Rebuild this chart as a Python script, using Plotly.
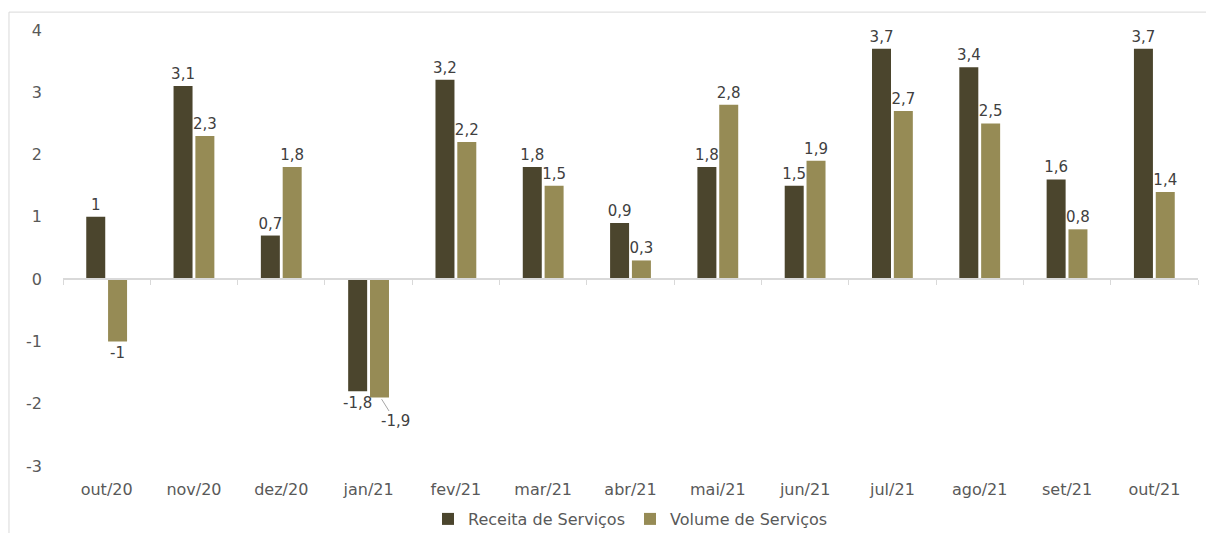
import plotly.graph_objects as go

# Monthly variation (%) by category
meses = ["out/20", "nov/20", "dez/20", "jan/21", "fev/21", "mar/21", "abr/21",
         "mai/21", "jun/21", "jul/21", "ago/21", "set/21", "out/21"]
receita = [1, 3.1, 0.7, -1.8, 3.2, 1.8, 0.9, 1.8, 1.5, 3.7, 3.4, 1.6, 3.7]
volume = [-1, 2.3, 1.8, -1.9, 2.2, 1.5, 0.3, 2.8, 1.9, 2.7, 2.5, 0.8, 1.4]
y_ticks = [-3, -2, -1, 0, 1, 2, 3, 4]

COR_RECEITA = "#4b452d"
COR_VOLUME = "#968b55"
FONTE = "DejaVu Sans"
COR_EIXO = "#d9d9d9"


def rotulo(v):
    s = f"{v:.1f}".replace(".", ",")
    return s[:-2] if s.endswith(",0") else s


# label of jan/21 volume bar is drawn as an annotation with a leader line
idx_jan = meses.index("jan/21")
txt_receita = [rotulo(v) for v in receita]
txt_volume = [rotulo(v) if i != idx_jan else "" for i, v in enumerate(volume)]

fig = go.Figure()
fig.add_trace(go.Bar(
    x=meses, y=receita, name="Receita de Serviços",
    marker=dict(color=COR_RECEITA, line=dict(width=0)),
    text=txt_receita, textposition="outside", constraintext="none",
    cliponaxis=False,
    textfont=dict(family=FONTE, size=15, color="#404040"),
))
fig.add_trace(go.Bar(
    x=meses, y=volume, name="Volume de Serviços",
    marker=dict(color=COR_VOLUME, line=dict(width=0)),
    text=txt_volume, textposition="outside", constraintext="none",
    cliponaxis=False,
    textfont=dict(family=FONTE, size=15, color="#404040"),
))
# carrier for the zero axis (line with month separators)
fig.add_trace(go.Scatter(
    x=meses, y=receita, xaxis="x2", mode="none",
    showlegend=False, hoverinfo="skip",
))

fig.add_annotation(
    x=meses[idx_jan], y=volume[idx_jan], xref="x", yref="y",
    xshift=12, text=rotulo(volume[idx_jan]),
    showarrow=True, arrowhead=0, arrowwidth=1, arrowcolor="#a6a6a6",
    ax=15, ay=24, standoff=2,
    font=dict(family=FONTE, size=15, color="#404040"),
)

n = len(meses)
fig.update_layout(
    width=1206, height=533,
    margin=dict(l=63, r=8, t=30, b=67),
    paper_bgcolor="white", plot_bgcolor="white",
    barmode="group", bargap=0.5, bargroupgap=0.13,
    font=dict(family=FONTE, size=16, color="#595959"),
    showlegend=True,
    legend=dict(orientation="h", x=0.5, xanchor="center",
                yref="container", y=1 - 519 / 533, yanchor="middle",
                font=dict(family=FONTE, size=16, color="#595959"),
                itemwidth=30, tracegroupgap=0),
    xaxis=dict(type="category", range=[-0.5, n - 0.5], showline=False,
               showgrid=False, ticks="", ticklabelstandoff=12,
               automargin=False,
               tickfont=dict(family=FONTE, size=16, color="#595959")),
    xaxis2=dict(type="category", overlaying="x", anchor="free",
                position=3 / 7, range=[-0.5, n - 0.5],
                tickson="boundaries", ticks="outside", ticklen=5,
                tickcolor=COR_EIXO, tickwidth=1, automargin=False,
                showline=True, linecolor=COR_EIXO, linewidth=2,
                showticklabels=False, showgrid=False, zeroline=False),
    yaxis=dict(range=[-3, 4], tickvals=y_ticks,
               ticktext=[str(v) for v in y_ticks], showgrid=False,
               zeroline=False, showline=False, ticks="",
               ticklabelstandoff=20, automargin=False,
               tickfont=dict(family=FONTE, size=16, color="#595959")),
)

# chart frame
fig.add_shape(type="rect", xref="paper", yref="paper",
              x0=-0.0476, x1=1.02, y0=-0.25, y1=1.041,
              line=dict(color=COR_EIXO, width=1), layer="below")

fig.write_html("out.html")
